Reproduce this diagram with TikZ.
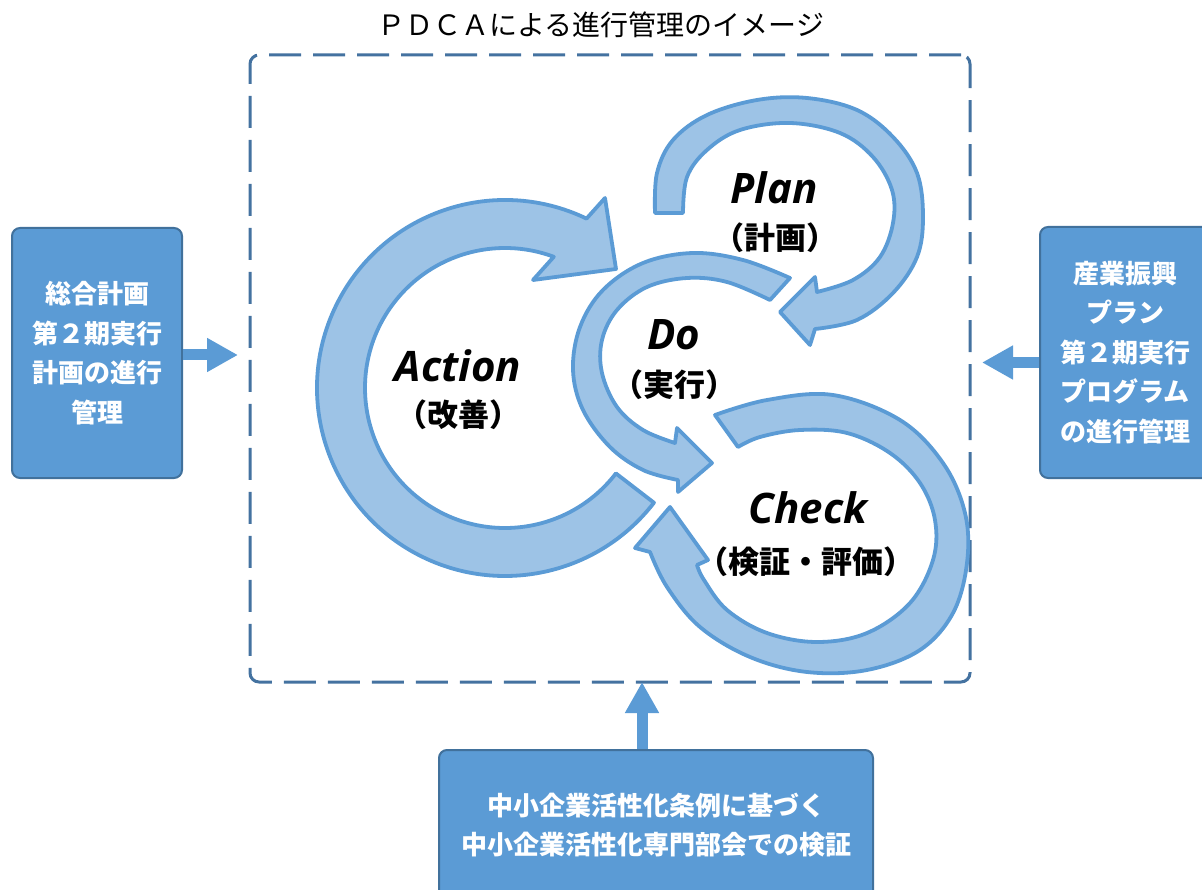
\documentclass[tikz,border=0pt]{standalone}
\usepackage{fontspec}
\newfontfamily\jp{Noto Sans CJK JP}
\newfontfamily\lat{Open Sans}
\usetikzlibrary{arrows.meta}
\definecolor{boxfill}{RGB}{91,155,213}
\definecolor{boxline}{RGB}{65,113,156}
\definecolor{framecol}{RGB}{68,114,160}
\definecolor{pdcafill}{RGB}{157,195,230}
\definecolor{pdcaline}{RGB}{91,155,213}
\begin{document}
\begin{tikzpicture}[x=1pt,y=-1pt,
  sidebox/.style={draw=boxline, line width=2pt, fill=boxfill, rounded corners=8pt, text=white,
    font=\jp\bfseries\fontsize{26}{39.5}\selectfont, align=center, inner sep=0pt},
  frame/.style={draw=framecol, line width=3pt, dash pattern=on 32pt off 12pt, rounded corners=9pt, inner sep=0pt},
  feed/.style={draw=boxfill, line width=11pt, -{Triangle[length=31pt,width=32pt]}},
  pdca/.style={fill=pdcafill, draw=pdcaline, line width=3.8pt, line join=round},
  eng/.style={font=\lat\bfseries\itshape\fontsize{42}{44}\selectfont},
  jpl/.style={font=\jp\bfseries\fontsize{31}{33}\selectfont},
  ]
\path[use as bounding box] (0,0) rectangle (1202,890);
\clip (0,0) rectangle (1202,890);

% title and frame
\node[font=\jp\fontsize{28}{30}\selectfont] (title) at (601,25) {ＰＤＣＡによる進行管理のイメージ};
\node[frame, minimum width=720pt, minimum height=627pt] (frame) at (610,368.5) {};

% side boxes
\node[sidebox, minimum width=170pt, minimum height=250pt] (L) at (97,353) {総合計画\\第２期実行\\計画の進行\\管理};
\node[sidebox, minimum width=170pt, minimum height=251pt] (R) at (1125,352.5) {産業振興\\プラン\\第２期実行\\プログラム\\の進行管理};
\node[sidebox, minimum width=434pt, minimum height=150pt] (B) at (656,825) {中小企業活性化条例に基づく\\中小企業活性化専門部会での検証};

% feeding arrows
\draw[feed, shorten >=10.5pt] ([yshift=-2pt]L.east) -- ([yshift=-2pt]L.east -| frame.west);
\draw[feed, shorten >=10.5pt] ([yshift=-10pt]R.west) -- ([yshift=-10pt]R.west -| frame.east);
\draw[feed, shorten >=-1.5pt] ([xshift=-14pt]B.north) -- ([xshift=-14pt]B.north |- frame.south);

% Action arrow
\draw[pdca] ([shift={(505,388)}]295.7:188) arc[start angle=295.7, end angle=37.6, radius=188]
  -- ([shift={(505,388)}]37.6:140) arc[start angle=37.6, end angle=290.4, radius=140]
  -- (533,280) -- (616,269) -- (605,198) -- cycle;

% Plan arrow
\draw[pdca] plot[smooth,tension=0.6] coordinates {(655,213) (657,173) (673,140) (707,115) (757,100) (807,98) (857,110) (893,137) (917,173) (923,217) (917,257) (893,293) (857,320) (815,329)}
  -- (810,345) -- (780,312) -- (815,277)
  -- plot[smooth,tension=0.6] coordinates {(817,292) (853,280) (880,257) (893,223) (892,190) (873,157) (840,133) (790,123) (740,130) (707,150) (687,177) (683,213)}
  -- cycle;

% Do arrow
\draw[pdca] plot[smooth,tension=0.6] coordinates {(790,278) (743,260) (693,253) (643,263) (603,290) (580,327) (573,370) (583,410) (610,447) (643,470) (678,480)}
  -- (678,492) -- (712,463) -- (677,428)
  -- plot[smooth,tension=0.6] coordinates {(675,443) (643,430) (617,407) (602,373) (602,340) (617,310) (647,287) (687,278) (727,282) (770,300)}
  -- cycle;

% Check arrow
\draw[pdca] plot[smooth,tension=0.6] coordinates {(650,552) (667,587) (700,627) (750,657) (807,672) (867,670) (920,650) (953,613) (967,563) (965,513) (943,463) (900,420) (833,395) (767,400) (715,415)}
  -- plot[smooth,tension=0.6] coordinates {(738,447) (760,437) (800,430) (847,433) (890,453) (920,483) (935,520) (933,560) (910,603) (867,633) (817,642) (767,633) (727,610) (704,580) (697,565)}
  -- (708,560) -- (670,507) -- (635,548) -- cycle;

% labels
\node[eng] (act) at (458,366) {Action};
\node[jpl] (actj) at (458,415) {（改善）};
\node[eng] (plan) at (774,188) {Plan};
\node[jpl] (planj) at (775,238) {（計画）};
\node[eng] (do) at (674,335) {Do};
\node[jpl] (doj) at (674,385) {（実行）};
\node[eng] (check) at (808,508) {Check};
\node[jpl] (checkj) at (806,562) {（検証・評価）};
\end{tikzpicture}
\end{document}
